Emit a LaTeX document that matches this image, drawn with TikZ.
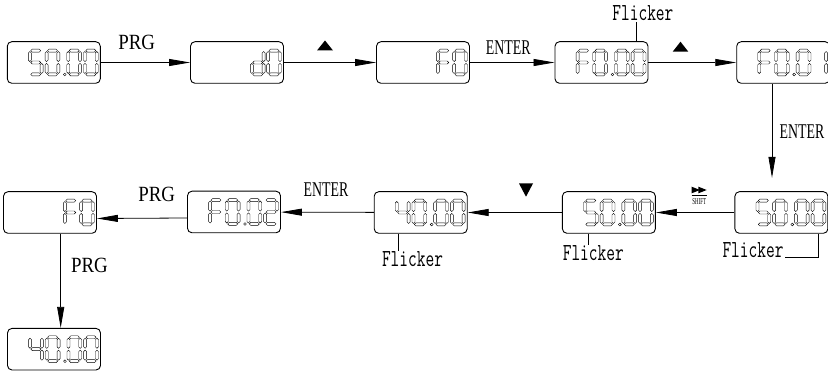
\documentclass[tikz,border=0pt]{standalone}
\usepackage{fontspec}
\setmainfont{Liberation Serif}
\newfontfamily\prgfont[FakeStretch=0.87]{Liberation Serif}
\newfontfamily\narrowfont[FakeStretch=0.66]{Liberation Serif}
\newfontfamily\shiftfont[FakeStretch=0.55]{Liberation Serif}
\newfontfamily\flickfont[FakeStretch=0.69]{Latin Modern Mono}
\usetikzlibrary{arrows.meta, calc}

% one segment of an LCD digit (cell 15 x 27, y downwards)
\newcommand{\hseg}[3]{\draw[seg] (#1+0.9,#3) -- (#1+2.4,#3-1.5) -- (#2-2.4,#3-1.5) -- (#2-0.9,#3) -- (#2-2.4,#3+1.5) -- (#1+2.4,#3+1.5) -- cycle;}
\newcommand{\vseg}[3]{\draw[seg] (#1,#2+0.9) -- (#1+1.5,#2+2.4) -- (#1+1.5,#3-2.4) -- (#1,#3-0.9) -- (#1-1.5,#3-2.4) -- (#1-1.5,#2+2.4) -- cycle;}
\newcommand{\segA}{\hseg{1.6}{13.4}{1.6}}
\newcommand{\segB}{\vseg{13.4}{1.6}{13.5}}
\newcommand{\segC}{\vseg{13.4}{13.5}{25.4}}
\newcommand{\segD}{\hseg{1.6}{13.4}{25.4}}
\newcommand{\segE}{\vseg{1.6}{13.5}{25.4}}
\newcommand{\segF}{\vseg{1.6}{1.6}{13.5}}
\newcommand{\segG}{\hseg{1.6}{13.4}{13.5}}

% characters as lists of lit segments
\newcommand{\lcdzero}{A,B,C,D,E,F}
\newcommand{\lcdone}{B,C}
\newcommand{\lcdtwo}{A,B,G,E,D}
\newcommand{\lcdfour}{F,G,B,C}
\newcommand{\lcdfive}{A,F,G,C,D}
\newcommand{\lcdF}{A,F,G,E}
\newcommand{\lcdd}{B,C,D,E,G}

% #1 box, #2 left side of the digit from the box's right side, #3 segments
\newcommand{\lcd}[3]{%
  \begin{scope}[shift={($(#1.east)+(#2,-13.5)$)}]
    \foreach \s in #3 {\csname seg\s\endcsname}
  \end{scope}}
\newcommand{\lcdpoint}[1]{\draw[seg] ($(#1.east)+(-36,12)$) circle (1.4pt);}
\newcommand{\readout}[5]{\lcd{#1}{-72.5}{#2}\lcd{#1}{-55.8}{#3}\lcdpoint{#1}\lcd{#1}{-34.1}{#4}\lcd{#1}{-17.4}{#5}}
\newcommand{\shortreadout}[3]{\lcd{#1}{-33.7}{#2}\lcd{#1}{-17.4}{#3}}

\tikzset{
  lcdbox/.style={draw, line width=0.9pt, rounded corners=4.5pt, minimum width=93pt, minimum height=41.6pt, inner sep=0pt},
  seg/.style={line width=0.4pt, fill=white},
  flow/.style={-{Triangle[length=21pt,width=7pt]}, line width=0.8pt},
  prgkey/.style={font=\prgfont\fontsize{21.7}{24}\selectfont, anchor=base, inner sep=1pt},
  enterkey/.style={font=\narrowfont\fontsize{21}{24}\selectfont, anchor=base, inner sep=1pt},
  flicker/.style={font=\flickfont\fontsize{24.5}{26}\selectfont, anchor=base, inner sep=1pt},
}

\begin{document}
\begin{tikzpicture}[x=1pt, y=-1pt]
  \useasboundingbox (0,0) rectangle (828,371);

  % displays
  \node[lcdbox] (b1) at (53.8,62.5) {};
  \node[lcdbox] (b2) at (237,62.5) {};
  \node[lcdbox] (b3) at (423,62.5) {};
  \node[lcdbox] (b4) at (601.5,62.5) {};
  \node[lcdbox] (b5) at (783.2,62.5) {};
  \node[lcdbox] (b6) at (781.4,212.5) {};
  \node[lcdbox] (b7) at (608.9,212.5) {};
  \node[lcdbox] (b8) at (234,212) {};
  \node[lcdbox] (b9) at (420.7,212.5) {};
  \node[lcdbox] (b10) at (50,212.5) {};
  \node[lcdbox] (b11) at (54,349.2) {};

  \readout{b1}{\lcdfive}{\lcdzero}{\lcdzero}{\lcdzero}
  \shortreadout{b2}{\lcdd}{\lcdzero}
  \shortreadout{b3}{\lcdF}{\lcdzero}
  \readout{b4}{\lcdF}{\lcdzero}{\lcdzero}{\lcdzero}
  \readout{b5}{\lcdF}{\lcdzero}{\lcdzero}{\lcdone}
  \readout{b6}{\lcdfive}{\lcdzero}{\lcdzero}{\lcdzero}
  \readout{b7}{\lcdfive}{\lcdzero}{\lcdzero}{\lcdzero}
  \readout{b8}{\lcdF}{\lcdzero}{\lcdzero}{\lcdtwo}
  \readout{b9}{\lcdfour}{\lcdzero}{\lcdzero}{\lcdzero}
  \shortreadout{b10}{\lcdF}{\lcdzero}
  \readout{b11}{\lcdfour}{\lcdzero}{\lcdzero}{\lcdzero}

  % key presses
  \draw[flow] (b1) -- (b2);
  \draw[flow] (b2) -- (b3);
  \draw[flow] (b3) -- (b4);
  \draw[flow] (b4) -- (b5);
  \draw[flow, shorten >=13.4pt] ([xshift=-11.2pt]b5.south) -- ([xshift=-11.2pt]b5.south |- b6.north);
  \draw[flow] (b6) -- (b7);
  \draw[flow] (b7) -- (b9);
  \draw[flow] (b9) -- (b8);
  \draw[flow] ([yshift=-6pt]b8.west) -- ([yshift=-6pt]b10.east);
  \draw[flow] ([xshift=10.7pt]b10.south) -- ([xshift=10.7pt]b10.south |- b11.north);

  \node[prgkey] (prg1) at (136.7,49.3) {PRG};
  \node[enterkey] (ent1) at (508.3,54.5) {ENTER};
  \node[enterkey] (ent2) at (802,138.3) {ENTER};
  \node[enterkey] (ent3) at (326,196.7) {ENTER};
  \node[prgkey] (prg2) at (156.7,201.7) {PRG};
  \node[prgkey] (prg3) at (89.5,272.7) {PRG};

  % up, down and shift keys
  \fill (325,40.5) -- (317,50.5) -- (333,50.5) -- cycle;
  \fill (680.5,41.7) -- (672.7,51.7) -- (688.3,51.7) -- cycle;
  \fill (526,196.7) -- (519,183.5) -- (533,183.5) -- cycle;
  \fill (691.7,186.7) -- (700,190) -- (691.7,193.3) -- cycle;
  \fill (698.4,186.7) -- (706.7,190) -- (698.4,193.3) -- cycle;
  \draw[line width=0.6pt] (691.7,195.3) -- (706.7,195.3);
  \node[font=\shiftfont\fontsize{9}{10}\selectfont, anchor=base, inner sep=0pt] (shift) at (699.3,205) {SHIFT};

  % flickering digit
  \node[flicker] (fl1) at (642.9,20.7) {Flicker};
  \node[flicker] (fl2) at (753,257.5) {Flicker};
  \node[flicker] (fl3) at (593.3,261) {Flicker};
  \node[flicker] (fl4) at (412.5,267) {Flicker};
  \draw[line width=0.7pt] ([xshift=-7pt]fl1.south) -- ([xshift=-7pt]fl1.south |- b4.north);
  \draw[line width=0.7pt] ([xshift=36.9pt]b6.south) |- (fl2.base east);
  \draw[line width=0.7pt] ([xshift=-20.9pt]b7.south) -- ([xshift=-20.9pt]b7.south |- fl3.north);
  \draw[line width=0.7pt] ([xshift=-22.4pt]b9.south) -- ([xshift=-22.4pt]b9.south |- fl4.north);
\end{tikzpicture}
\end{document}
